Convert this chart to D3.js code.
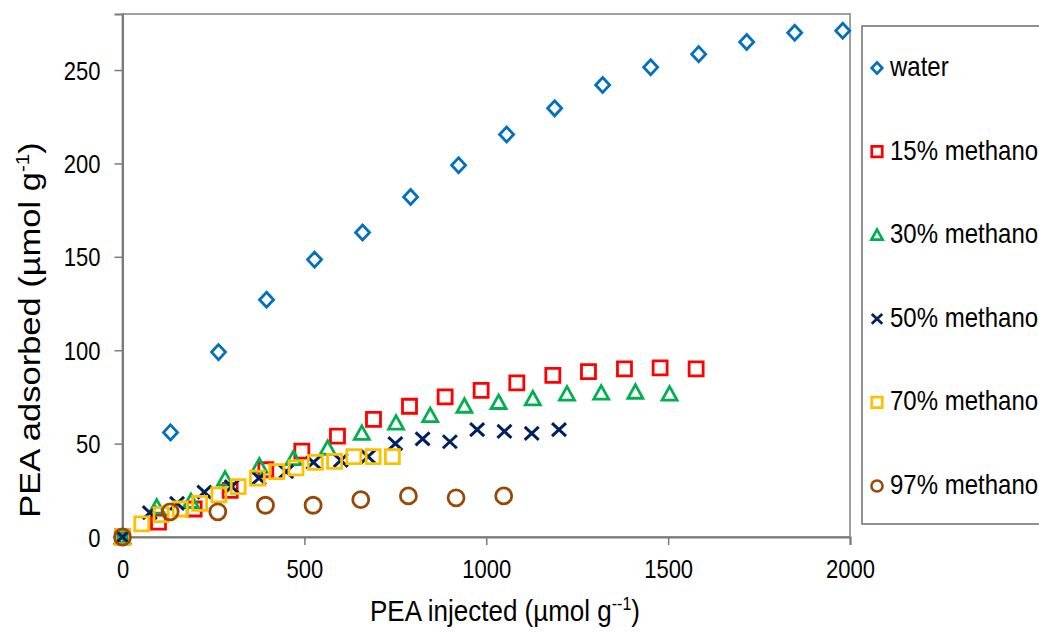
<!DOCTYPE html>
<html>
<head>
<meta charset="utf-8">
<script src="https://cdnjs.cloudflare.com/ajax/libs/d3/7.8.5/d3.min.js"></script>
<style>
  body { margin: 0; background: #fff; }
  svg { display: block; font-family: "Liberation Sans", Arial, sans-serif; }
</style>
</head>
<body>
<svg id="chart" width="1039" height="633"></svg>
<script>
// data: [injected, adsorbed]
const water = [[0,0],[132,56],[264,99],[396,127],[528,148.5],[660,163],[792,182],[924,199],[1056,215.5],[1188,229.5],[1320,242],[1452,251.5],[1584,258.5],[1716,265],[1848,270],[1980,271]];
const meth15 = [[0,0],[99,8],[197,15],[296,25],[394,36],[493,46],[591,54],[690,63],[789,70],[887,75],[986,78.5],[1084,82.5],[1183,86.5],[1281,88.5],[1380,90],[1478,90.5],[1577,90]];
const meth30 = [[0,0],[94,16],[188,19],[282,31],[376,38],[470,42],[564,47.5],[658,55.5],[752,61],[846,65],[940,70],[1034,72],[1128,74],[1222,76.5],[1316,77],[1410,77.5],[1504,76.5]];
const meth50 = [[0,0],[75,13],[150,18],[225,24],[300,27],[375,31.5],[450,35],[525,40],[600,41],[675,43],[750,50],[825,52.5],[900,51],[975,57.5],[1050,56.5],[1125,55.5],[1200,57.5]];
const meth70 = [[0,0],[53,7],[106,12],[159,15],[212,18],[265,22.5],[318,27],[371,31.5],[424,35],[477,37],[530,40],[583,40.5],[636,43],[689,43],[742,43]];
const meth97 = [[0,0],[131,13.5],[262,13.5],[393,17],[524,17],[655,20],[786,22],[917,21],[1048,22]];

const seriesNames = ["water","15% methanol","30% methanol","50% methanol","70% methanol","97% methanol"];
const seriesData = [water, meth15, meth30, meth50, meth70, meth97];
const seriesColors = ["#0070C0","#FF0000","#00B050","#002060","#FFC000","#984807"];
const seriesShapes = ["diamond","square","triangle","cross","square","circle"];

const xTicks = [0,500,1000,1500,2000];
const yTicks = [0,50,100,150,200,250];

const svg = d3.select("#chart");
const plotLeft = 122.5, plotRight = 850, plotTop = 14, plotBottom = 537;
const stretch = 1.15; // text in the picture is a bit taller than wide

const x = d3.scaleLinear().domain([0,2000]).range([plotLeft,plotRight]);
const y = d3.scaleLinear().domain([0,280]).range([plotBottom,plotTop]);

// marker shapes
function shapePath(shape) {
  const p = d3.path();
  if (shape === "diamond") {
    p.moveTo(0,-7.5); p.lineTo(7,0); p.lineTo(0,7.5); p.lineTo(-7,0); p.closePath();
  } else if (shape === "square") {
    p.rect(-7,-7,14,14);
  } else if (shape === "triangle") {
    p.moveTo(0,-7.5); p.lineTo(7.5,6); p.lineTo(-7.5,6); p.closePath();
  } else if (shape === "cross") {
    p.moveTo(-7,-6.5); p.lineTo(7,6.5); p.moveTo(7,-6.5); p.lineTo(-7,6.5);
  } else {
    p.arc(0,0,8,0,2*Math.PI);
  }
  return p.toString();
}

// plot frame
svg.append("rect")
  .attr("x", plotLeft).attr("y", plotTop)
  .attr("width", plotRight-plotLeft).attr("height", plotBottom-plotTop)
  .attr("fill","none").attr("stroke","#a0a0a0").attr("stroke-width",2);

// axes
const xAxis = svg.append("g")
  .attr("transform", `translate(0,${plotBottom})`)
  .call(d3.axisBottom(x).tickValues(xTicks).tickSize(8).tickFormat(d3.format("d")));
const yAxis = svg.append("g")
  .attr("transform", `translate(${plotLeft},0)`)
  .call(d3.axisLeft(y).tickValues(yTicks).tickSize(8).tickFormat(d3.format("d")));

[xAxis, yAxis].forEach(a => {
  a.select(".domain").attr("stroke","#7a7a7a").attr("stroke-width",2);
  a.selectAll(".tick line").attr("stroke","#7a7a7a").attr("stroke-width",1.5);
  a.selectAll(".tick text").attr("fill","#000")
    .style("font-family","Liberation Sans, Arial, sans-serif")
    .style("font-size","22px")
    .attr("x", null).attr("y", null).attr("dy", null);
});
xAxis.selectAll(".tick text")
  .attr("transform", `translate(0,41) scale(1,${stretch})`);
yAxis.selectAll(".tick text")
  .attr("transform", `translate(-22,9) scale(1,${stretch})`);

// axis titles
const xt = svg.append("text")
  .attr("transform", `translate(505,621) scale(1,${stretch})`)
  .attr("text-anchor","middle")
  .style("font-size","26px");
xt.append("tspan").text("PEA injected (\u00b5mol g");
xt.append("tspan").attr("dy",-10).style("font-size","16px").text("--1");
xt.append("tspan").attr("dy",10).text(")");

const yt = svg.append("text")
  .attr("transform",`translate(40,330) rotate(-90) scale(${stretch},1)`)
  .attr("text-anchor","middle")
  .style("font-size","30px");
yt.append("tspan").text("PEA adsorbed (\u00b5mol g");
yt.append("tspan").attr("dy",-11).style("font-size","18px").text("-1");
yt.append("tspan").attr("dy",11).text(")");

// points
seriesData.forEach((data, i) => {
  svg.append("g")
    .selectAll("path")
    .data(data)
    .join("path")
    .attr("transform", d => `translate(${x(d[0])},${y(d[1])})`)
    .attr("d", shapePath(seriesShapes[i]))
    .attr("fill", "none")
    .attr("stroke", seriesColors[i])
    .attr("stroke-width", seriesShapes[i] === "cross" ? 3 : 2.8);
});

// legend (box runs past the right edge, as in the picture)
const legend = svg.append("g");
legend.append("rect")
  .attr("x", 862).attr("y", 26).attr("width", 200).attr("height", 498)
  .attr("fill","#fff").attr("stroke","#6e6e6e").attr("stroke-width",1.5);

const legendY = d3.scalePoint().domain(seriesNames).range([68,486]);
seriesNames.forEach((name, i) => {
  const s = seriesShapes[i];
  const sc = s === "circle" ? 0.7 : 0.75;
  legend.append("path")
    .attr("transform", `translate(877,${legendY(name)}) scale(${sc})`)
    .attr("d", shapePath(s))
    .attr("fill","none")
    .attr("stroke", seriesColors[i])
    .attr("stroke-width", 3.6);
  legend.append("text")
    .attr("transform", `translate(890,${legendY(name) + 8}) scale(1,${stretch})`)
    .style("font-size","24px")
    .text(name);
});
</script>
</body>
</html>
